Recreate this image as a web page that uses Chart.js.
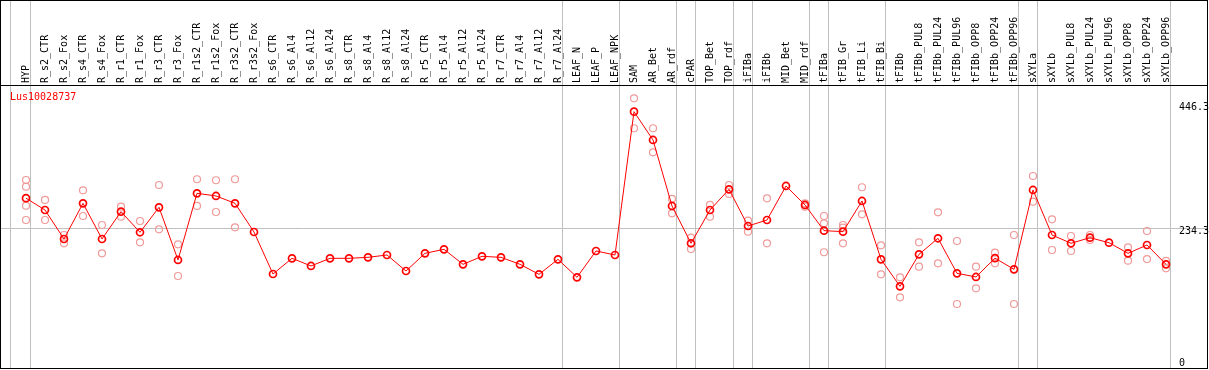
<!DOCTYPE html>
<html><head><meta charset="utf-8">
<script src="https://cdn.jsdelivr.net/npm/chart.js@4.4.1/dist/chart.umd.min.js"></script>
<style>html,body{margin:0;padding:0;background:#fff;} canvas{display:block;}</style>
</head><body>
<canvas id="c" width="1209" height="370"></canvas>
<script>
const geneId = 'Lus10028737';
const categories = ['HYP','R_s2_CTR','R_s2_Fox','R_s4_CTR','R_s4_Fox','R_r1_CTR','R_r1_Fox','R_r3_CTR','R_r3_Fox','R_r1s2_CTR','R_r1s2_Fox','R_r3s2_CTR','R_r3s2_Fox','R_s6_CTR','R_s6_Al4','R_s6_Al12','R_s6_Al24','R_s8_CTR','R_s8_Al4','R_s8_Al12','R_s8_Al24','R_r5_CTR','R_r5_Al4','R_r5_Al12','R_r5_Al24','R_r7_CTR','R_r7_Al4','R_r7_Al12','R_r7_Al24','LEAF_N','LEAF_P','LEAF_NPK','SAM','AR_Bet','AR_rdf','cPAR','TOP_Bet','TOP_rdf','iFIBa','iFIBb','MID_Bet','MID_rdf','tFIBa','tFIB_Gr','tFIB_Li','tFIB_Bi','tFIBb','tFIBb_PUL8','tFIBb_PUL24','tFIBb_PUL96','tFIBb_OPP8','tFIBb_OPP24','tFIBb_OPP96','sXYLa','sXYLb','sXYLb_PUL8','sXYLb_PUL24','sXYLb_PUL96','sXYLb_OPP8','sXYLb_OPP24','sXYLb_OPP96'];
const meanValues = [285.5,265.4,216.1,276.8,216.1,262.6,227.5,270,180.4,293.8,289.3,276.8,228,156.5,183.2,170.2,183.2,183.2,184.9,188.9,161.6,191.7,198.5,173,186.6,184.9,173,156,181.5,150.9,195.7,188.9,432.7,384.6,272.3,208.8,265.4,300.6,238.2,248.4,306.3,274,230.3,228.6,280.8,181.5,135.5,190,217.3,157.7,151.5,183.5,164.5,299.5,222.9,208.8,218.3,209.8,191.7,205.9,173];
const rep1 = [316.5,282.5,222.9,298.9,239.9,271.1,246.7,308,207.1,317.7,316,317.7,null,null,null,null,null,null,null,null,null,null,null,null,null,null,null,null,null,null,null,null,455.5,404.5,284.2,218.3,274,308,247.3,285.3,null,276.8,255.2,239.9,304.1,205.4,150.9,210.5,261.5,212.7,169,192.8,222.9,323.3,249.6,221.2,222.9,null,202,229.7,178.7];
const rep2 = [305.1,248.4,208.8,255.2,191.7,254.1,210.5,232.6,153.1,272.3,262,236,null,null,null,null,null,null,null,null,null,null,null,null,null,null,null,null,null,null,null,null,404.5,363.6,259.8,199.1,254.1,292.7,228.6,208.8,null,271.1,242.8,235.3,258.1,156,116.9,169,174.7,105.5,132.2,174.7,105.5,279.6,197.4,195.7,214.4,null,179.2,182,166.2];
const rep3 = [272.8,null,null,null,null,null,null,null,null,null,null,null,null,null,null,null,null,null,null,null,null,null,null,null,null,null,null,null,null,null,null,null,null,null,null,null,null,null,null,null,null,null,193.5,208.8,null,null,null,null,null,null,null,null,null,null,null,null,null,null,null,null,null];
const rep4 = [248.4,null,null,null,null,null,null,null,null,null,null,null,null,null,null,null,null,null,null,null,null,null,null,null,null,null,null,null,null,null,null,null,null,null,null,null,null,null,null,null,null,null,null,null,null,null,null,null,null,null,null,null,null,null,null,null,null,null,null,null,null];
const groupSizes = [1,28,3,3,1,2,1,3,1,3,7,1,7];
const yTicks = [0, 234.3, 446.3];
const yTickLabels = ['0', '234.3', '446.3'];

// scale ranges (pixel mapping settings)
const X_MIN = -25/19, X_MAX = 60 + 41/19;
const Y_MIN = -3.4, Y_MAX = 478.1;

const groupLines = [-0.8];
let acc = 0;
groupSizes.forEach(s => { acc += s; groupLines.push(acc - 1 + 0.25); });

const FONT = {family: '"DejaVu Sans Mono", monospace', size: 10};

const framePlugin = {
  id: 'frame',
  afterDraw(chart) {
    const ctx = chart.ctx;
    ctx.save();
    ctx.strokeStyle = '#000';
    ctx.lineWidth = 1;
    ctx.strokeRect(0.5, 0.5, 1207, 368);
    ctx.beginPath(); ctx.moveTo(0, 85.5); ctx.lineTo(1208, 85.5); ctx.stroke();
    ctx.restore();
  }
};
const namePlugin = {
  id: 'geneName',
  afterDatasetsDraw(chart) {
    const ctx = chart.ctx;
    ctx.save();
    ctx.fillStyle = '#ff0000';
    ctx.font = '10px "DejaVu Sans Mono", monospace';
    ctx.textBaseline = 'middle';
    ctx.textAlign = 'left';
    ctx.fillText(chart.data.datasets[0].label, 10, 97.5);
    ctx.restore();
  }
};

const toPts = arr => arr.map((v, i) => v == null ? null : {x: i, y: v}).filter(p => p !== null);

const repStyle = {
  showLine: false, pointRadius: 3.5, pointBorderWidth: 1.2,
  pointBorderColor: '#f09a9a', pointBackgroundColor: 'rgba(0,0,0,0)', order: 1
};

new Chart(document.getElementById('c'), {
  type: 'line',
  data: {
    datasets: [
      { label: geneId, data: toPts(meanValues), borderColor: '#ff0000', borderWidth: 1,
        pointRadius: 3.5, pointBorderWidth: 1.7, pointBorderColor: '#ff0000',
        pointBackgroundColor: 'rgba(0,0,0,0)', order: 0 },
      Object.assign({label: 'rep1', data: toPts(rep1)}, repStyle),
      Object.assign({label: 'rep2', data: toPts(rep2)}, repStyle),
      Object.assign({label: 'rep3', data: toPts(rep3)}, repStyle),
      Object.assign({label: 'rep4', data: toPts(rep4)}, repStyle)
    ]
  },
  options: {
    responsive: false, animation: false, devicePixelRatio: 1, events: [],
    layout: {autoPadding: false, padding: {left: 1, right: 0, top: 0, bottom: 2}},
    plugins: {legend: {display: false}, tooltip: {enabled: false}, title: {display: false}},
    scales: {
      x: {
        type: 'linear', position: 'top', min: X_MIN, max: X_MAX, weight: 1,
        grid: {display: false, drawTicks: false}, border: {display: false},
        afterBuildTicks: s => { s.ticks = categories.map((_, i) => ({value: i})); },
        afterFit: s => { s.height = 85; s.paddingLeft = 0; s.paddingRight = 0; },
        ticks: {autoSkip: false, minRotation: 90, maxRotation: 90, padding: 2, labelOffset: 12,
          color: '#000', font: FONT, callback: (v, i) => categories[i]}
      },
      xg: {
        type: 'linear', position: 'top', min: X_MIN, max: X_MAX, weight: 0,
        afterBuildTicks: s => { s.ticks = groupLines.map(v => ({value: v})); },
        afterFit: s => { s.height = 0; s.paddingLeft = 0; s.paddingRight = 0; },
        ticks: {display: false},
        grid: {color: '#c0c0c0', lineWidth: 1, drawTicks: true, tickLength: 85},
        border: {display: false}
      },
      y: {
        type: 'linear', position: 'right', min: Y_MIN, max: Y_MAX,
        afterBuildTicks: s => { s.ticks = yTicks.map(v => ({value: v})); },
        afterFit: s => { s.width = 2; s.paddingTop = 0; s.paddingBottom = 0; },
        grid: {drawTicks: false, color: c => (c.tick && c.tick.value === 234.3) ? '#c0c0c0' : 'rgba(0,0,0,0)'},
        border: {display: false},
        ticks: {mirror: true, crossAlign: 'far', padding: 2, labelOffset: 3.5, color: '#000', font: FONT,
          callback: (v, i) => i === 0 ? [yTickLabels[i], ''] : yTickLabels[i]}
      }
    }
  },
  plugins: [framePlugin, namePlugin]
});
</script>
</body></html>
